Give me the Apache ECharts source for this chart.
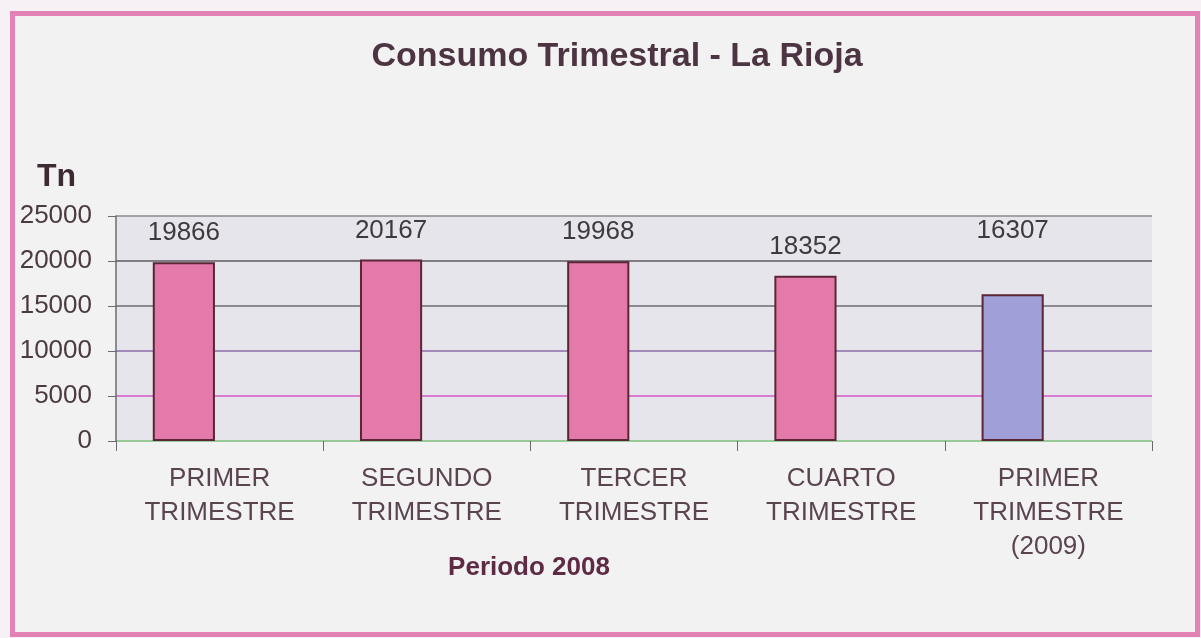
<!DOCTYPE html>
<html>
<head>
<meta charset="utf-8">
<script src="https://cdn.jsdelivr.net/npm/echarts@6/dist/echarts.min.js"></script>
<style>
  html, body { margin: 0; padding: 0; background: #f7f0f4; }
  #frame { position: absolute; left: 10px; top: 11px; width: 1180px; height: 616px; border: 5px solid #e382b4; background: #f3f2f3; }
  #chart { position: absolute; left: 0; top: 0; width: 1201px; height: 638px; }
</style>
</head>
<body>
<div id="frame"></div>
<div id="chart"></div>
<script>
// datos del grafico
const categories = [
  "PRIMER\nTRIMESTRE",
  "SEGUNDO\nTRIMESTRE",
  "TERCER\nTRIMESTRE",
  "CUARTO\nTRIMESTRE",
  "PRIMER\nTRIMESTRE\n(2009)",
];
const valores = [19866, 20167, 19968, 18352, 16307];
const yTicks = [0, 5000, 10000, 15000, 20000, 25000];

const font = '"Liberation Sans", Arial, sans-serif';
const myChart = echarts.init(document.getElementById("chart"));

const barData = valores.map((v, i) => {
  const last = i === valores.length - 1;
  return {
    value: v,
    itemStyle: { color: last ? "#a09fd8" : "#e47aa9" },
    label: { distance: last ? 50 : 16 },
  };
});

myChart.setOption({
  backgroundColor: "transparent",
  title: [
    {
      text: "Consumo Trimestral - La Rioja",
      left: 612,
      textAlign: "center",
      top: 35,
      textStyle: { fontFamily: font, fontSize: 34, fontWeight: "bold", color: "#4d3442" },
    },
    {
      text: "Tn",
      left: 32,
      top: 156,
      textStyle: { fontFamily: font, fontSize: 32, fontWeight: "bold", color: "#3e2a34" },
    },
    {
      text: "Periodo 2008",
      left: 524,
      textAlign: "center",
      top: 550,
      textStyle: { fontFamily: font, fontSize: 26, fontWeight: "bold", color: "#5e2a44" },
    },
  ],
  grid: {
    left: 116,
    right: 49,
    top: 216,
    bottom: 197,
    show: true,
    backgroundColor: "#e7e5ec",
    borderWidth: 0,
  },
  xAxis: {
    type: "category",
    data: categories,
    axisLine: { show: false },
    axisTick: { show: true, length: 10, lineStyle: { color: "#6a6a6a" } },
    axisLabel: {
      fontFamily: font,
      fontSize: 26,
      lineHeight: 34,
      color: "#5a4450",
      margin: 21,
    },
  },
  yAxis: {
    type: "value",
    min: yTicks[0],
    max: yTicks[yTicks.length - 1],
    interval: 5000,
    axisLine: { show: true, lineStyle: { color: "#6a6a70", width: 1.5 } },
    axisTick: { show: true, length: 8, lineStyle: { color: "#6a6a70" } },
    axisLabel: {
      fontFamily: font,
      fontSize: 26,
      color: "#4a3a42",
      margin: 24,
      formatter: (v) => String(v),
    },
    splitLine: {
      show: true,
      lineStyle: {
        color: ["#7bbf7a", "#d459c8", "#8a6aa8", "#6e6a72", "#5e5860", "#8a8890"],
        width: 1.5,
      },
    },
  },
  series: [
    {
      type: "bar",
      data: barData,
      barWidth: "30%",
      itemStyle: { borderColor: "#5a2535", borderWidth: 2 },
      label: {
        show: true,
        position: "top",
        fontFamily: font,
        fontSize: 26,
        color: "#3e3a3e",
      },
    },
    {
      // serie vacia: deja el hueco a la derecha de cada barra, como en Excel
      type: "bar",
      data: [],
      barWidth: "30%",
      barGap: "15%",
    },
  ],
});
</script>
</body>
</html>
